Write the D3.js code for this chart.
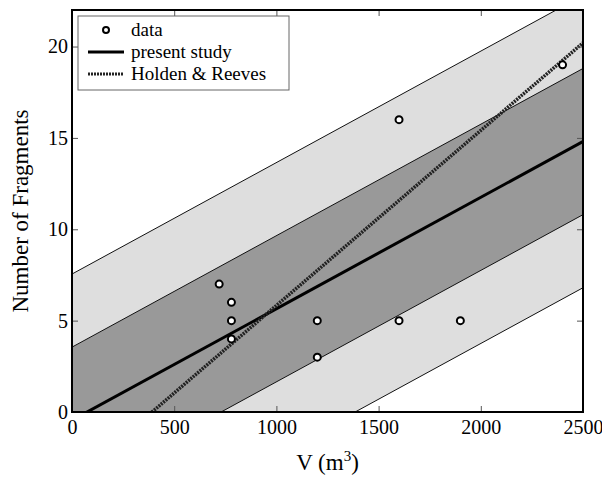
<!DOCTYPE html>
<html>
<head>
<meta charset="utf-8">
<script src="https://cdn.jsdelivr.net/npm/d3@7"></script>
<style>
  body { margin: 0; background: #fff; }
  svg text { font-family: 'Liberation Serif', 'Times New Roman', serif; }
</style>
</head>
<body>
<div id="chart"></div>
<script>
// data
const dataV = [720, 780, 780, 780, 1200, 1200, 1600, 1600, 1900, 2400]
const dataN = [7, 6, 5, 4, 5, 3, 16, 5, 5, 19]

// fitted lines: N = slope * V + intercept
const presentFit = { slope: 0.0061, intercept: -0.45 }
const holdenFit = { slope: 0.00958, intercept: -3.75 }
const innerBand = 4
const outerBand = 8

const xTicks = [0, 500, 1000, 1500, 2000, 2500]
const yTicks = [0, 5, 10, 15, 20]
const legendLabels = ['data', 'present study', 'Holden & Reeves']

const margin = { top: 10, right: 19, bottom: 65, left: 72 }
const width = 602 - margin.left - margin.right
const height = 477 - margin.top - margin.bottom

const svg = d3
  .select('#chart')
  .append('svg')
  .attr('width', 602)
  .attr('height', 477)
  .append('g')
  .attr('transform', 'translate(' + margin.left + ',' + margin.top + ')')

const x = d3.scaleLinear().domain([0, 2500]).range([0, width])
const y = d3.scaleLinear().domain([0, 22]).range([height, 0])

svg.append('clipPath').attr('id', 'clip')
  .append('rect').attr('width', width).attr('height', height)

const plot = svg.append('g').attr('clip-path', 'url(#clip)')

const fitAt = (fit, v, off) => fit.slope * v + fit.intercept + off
const vs = [-100, 2600]

function band(off) {
  const pts = vs.map(v => [x(v), y(fitAt(presentFit, v, off))])
    .concat(vs.slice().reverse().map(v => [x(v), y(fitAt(presentFit, v, -off))]))
  return d3.line()(pts) + 'Z'
}

plot.append('path').attr('d', band(outerBand)).attr('fill', '#dedede')
plot.append('path').attr('d', band(innerBand)).attr('fill', '#999999')

const line = (fit, off) => d3.line()(vs.map(v => [x(v), y(fitAt(fit, v, off))]))

;[outerBand, innerBand, -innerBand, -outerBand].forEach(off => {
  plot.append('path').attr('d', line(presentFit, off))
    .attr('fill', 'none').attr('stroke', '#111').attr('stroke-width', 1)
})

plot.append('path').attr('d', line(presentFit, 0))
  .attr('fill', 'none').attr('stroke', '#000').attr('stroke-width', 3)

plot.append('path').attr('d', line(holdenFit, 0))
  .attr('fill', 'none').attr('stroke', '#222').attr('stroke-width', 3.5)
  .attr('stroke-dasharray', '2,1')

plot.selectAll('.pt')
  .data(dataV.map((v, i) => ({ v, n: dataN[i] })))
  .enter()
  .append('circle')
  .attr('class', 'pt')
  .attr('cx', d => x(d.v))
  .attr('cy', d => y(d.n))
  .attr('r', 3.5)
  .attr('fill', '#fff')
  .attr('stroke', '#000')
  .attr('stroke-width', 2)

// axes with inward ticks
const xAxis = d3.axisBottom(x).tickValues(xTicks).tickFormat(d3.format('d'))
  .tickSizeInner(-6).tickSizeOuter(0).tickPadding(8)
const yAxis = d3.axisLeft(y).tickValues(yTicks).tickFormat(d3.format('d'))
  .tickSizeInner(-6).tickSizeOuter(0).tickPadding(4)

svg.append('g').attr('transform', 'translate(0,' + height + ')').call(xAxis)
  .call(g => g.selectAll('text').attr('font-size', 20).attr('fill', '#000'))
svg.append('g').call(yAxis)
  .call(g => g.selectAll('text').attr('font-size', 20).attr('fill', '#000'))
svg.append('g').call(d3.axisTop(x).tickValues(xTicks).tickSizeInner(-6).tickSizeOuter(0).tickFormat(''))
svg.append('g').attr('transform', 'translate(' + width + ',0)')
  .call(d3.axisRight(y).tickValues(yTicks).tickSizeInner(-6).tickSizeOuter(0).tickFormat(''))
svg.selectAll('.domain').remove()
svg.selectAll('.tick line').attr('stroke', '#555')
svg.selectAll('.tick text').attr('font-family', null)
svg.selectAll('g').attr('font-family', null)

svg.append('rect').attr('width', width).attr('height', height)
  .attr('fill', 'none').attr('stroke', '#000').attr('stroke-width', 2)

// legend
const lg = svg.append('g').attr('transform', 'translate(6,6)')
lg.append('rect').attr('width', 211).attr('height', 74)
  .attr('fill', '#fff').attr('stroke', '#666').attr('stroke-width', 1)
legendLabels.forEach((label, i) => {
  const ly = 14 + i * 22
  if (i === 0) {
    lg.append('circle').attr('cx', 28).attr('cy', ly).attr('r', 3)
      .attr('fill', '#fff').attr('stroke', '#000').attr('stroke-width', 2)
  } else {
    const l = lg.append('line').attr('x1', 10).attr('x2', 46).attr('y1', ly).attr('y2', ly)
    if (i === 1) l.attr('stroke', '#000').attr('stroke-width', 3)
    else l.attr('stroke', '#222').attr('stroke-width', 3).attr('stroke-dasharray', '2,1')
  }
  lg.append('text').attr('x', 53).attr('y', ly + 6).attr('font-size', 19).text(label)
})

// axis labels
const xLabel = svg.append('text').attr('x', width / 2).attr('y', height + 58)
  .attr('text-anchor', 'middle').attr('font-size', 23)
xLabel.append('tspan').text('V (m')
xLabel.append('tspan').attr('dy', -9).attr('font-size', 15).text('3')
xLabel.append('tspan').attr('dy', 9).text(')')

svg.append('text')
  .attr('transform', 'translate(' + (-44) + ',' + height / 2 + ') rotate(-90)')
  .attr('text-anchor', 'middle').attr('font-size', 23)
  .text('Number of Fragments')
</script>
</body>
</html>
